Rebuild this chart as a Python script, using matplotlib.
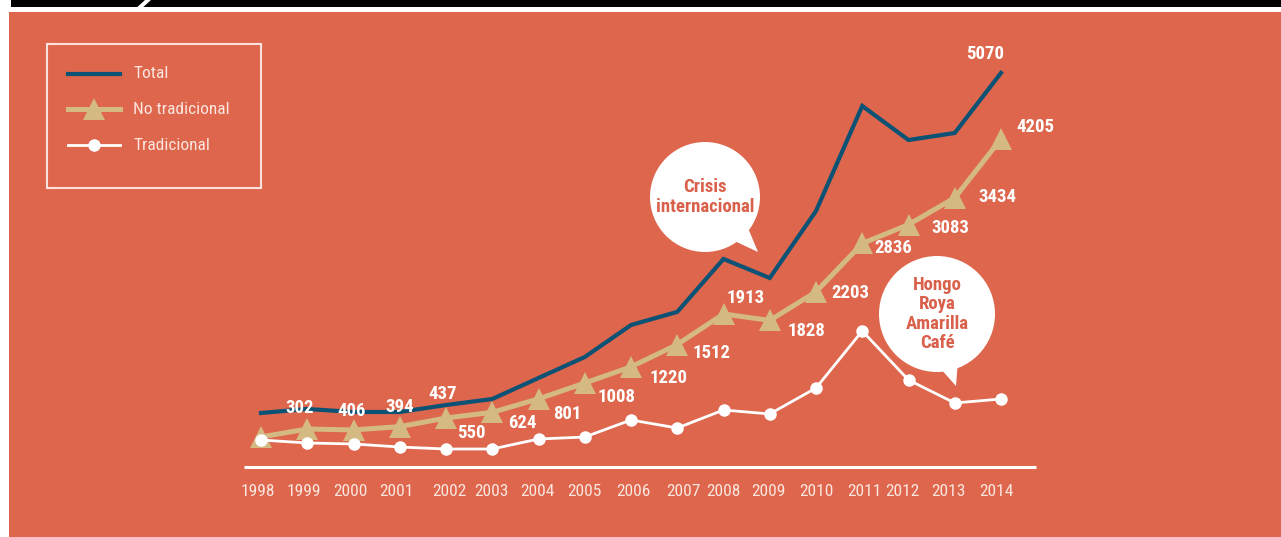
import matplotlib
matplotlib.use('Agg')
import matplotlib.pyplot as plt
import matplotlib.patches as patches
from matplotlib import font_manager

# datos
years = list(range(1998, 2015))
no_tradicional = [302, 406, 394, 437, 550, 624, 801, 1008, 1220, 1512, 1913, 1828, 2203, 2836, 3083, 3434, 4205]
tradicional = [262, 223, 210, 170, 144, 144, 275, 301, 524, 419, 655, 603, 943, 1690, 1048, 747, 799]
total = [616, 668, 629, 629, 720, 799, 1074, 1349, 1768, 1940, 2633, 2384, 3261, 4637, 4191, 4283, 5070]

# desplazamiento de las etiquetas (px, dx derecha / dy abajo)
lab_off = [(39, -29), (44, -18), (46, -23), (43, -33), (25, 15), (30, 11), (29, 15), (32, 14),
           (38, 11), (34, 8), (22, -16), (37, 11), (34, 1), (31, 5), (42, 3), (43, -1), (34, -12)]
# desplazamiento horizontal de los años (px)
tick_off = [-3, -3, -3, -3, 3, -1, -1, 0, 2, 6, 0, -1, 0, 2, -6, -6, -5]

W, H = 1281, 537
ORANGE = '#DD664C'
NAVY = '#0B5275'
TAN = '#D5B983'
WHITE = '#FFFFFF'
LIGHT = '#FBE6E0'
BUBBLE_TXT = '#D9604B'

# fuente condensada si hay alguna
names = {f.name for f in font_manager.fontManager.ttflist}
COND = 'DejaVu Sans'
for cand in ['Liberation Sans Narrow', 'Roboto Condensed', 'Open Sans Condensed', 'DejaVu Sans Condensed']:
    if cand in names:
        COND = cand
        break
FONT = dict(family=COND, fontstretch='condensed')


def P(x, y):
    # pixel (desde arriba-izquierda) -> fraccion
    return (x / W, 1 - y / H)


fig = plt.figure(figsize=(W / 100, H / 100), dpi=100, facecolor='white')
ax = fig.add_axes([0, 0, 1, 1])
ax.axis('off')

# escala: 1998 -> x=261px, 46.25 px por año; valor 0 -> y=460px, 0.07635 px por unidad
px_year = 46.25
px_val = 0.07635
ax.set_xlim(1998 - 261 / px_year, 1998 + (W - 261) / px_year)
ax.set_ylim(-(H - 460) / px_val, 460 / px_val)

# fondo
ta = ax.transAxes
ax.add_patch(patches.Rectangle(P(9, H), (W - 9) / W, (H - 12) / H, transform=ta,
                               facecolor=ORANGE, edgecolor='none', zorder=0))
ax.add_patch(patches.Rectangle(P(11, 7.3), (W - 11) / W, 7.3 / H, transform=ta,
                               facecolor='black', edgecolor='none', zorder=0))
ax.add_patch(patches.Polygon([P(137, 7.3), P(143, 7.3), P(151, 0), P(145, 0)], transform=ta,
                             facecolor='white', edgecolor='none', zorder=0))

# eje horizontal
ax.hlines(-(467 - 460) / px_val, years[0] - 0.37, years[-1] + 0.76, color=WHITE, linewidth=2.2, zorder=2)
for yr, off in zip(years, tick_off):
    ax.annotate(str(yr), (yr, -(491 - 460) / px_val), xytext=(off * 0.72, 0), textcoords='offset points',
                ha='center', va='center', color=LIGHT, fontsize=12.5, **FONT)

# series
ax.plot(years, total, color=NAVY, linewidth=3.0, solid_joinstyle='miter', zorder=3)
ax.plot(years, no_tradicional, color=TAN, linewidth=3.6, marker='^', markersize=15.5,
        markeredgewidth=0, zorder=4)
ax.plot(years, tradicional, color=WHITE, linewidth=2.0, marker='o', markersize=9,
        markeredgewidth=0, zorder=5)

# etiquetas
for yr, v, (dx, dy) in zip(years, no_tradicional, lab_off):
    ax.annotate(str(v), (yr, v), xytext=(dx * 0.72, -dy * 0.72), textcoords='offset points',
                ha='center', va='center', color=WHITE, fontsize=13.5, fontweight='bold',
                zorder=6, **FONT)
ax.annotate(str(total[-1]), (years[-1], total[-1]), xytext=(-16 * 0.72, 19 * 0.72),
            textcoords='offset points', ha='center', va='center', color=WHITE, fontsize=13.5,
            fontweight='bold', zorder=6, **FONT)


# burbujas
def bubble(cx, cy, r, tail, text):
    ax.add_patch(patches.Ellipse(P(cx, cy), 2 * r / W, 2 * r / H, transform=ta,
                                 facecolor=WHITE, edgecolor='none', zorder=7))
    ax.add_patch(patches.Polygon([P(*t) for t in tail], transform=ta,
                                 facecolor=WHITE, edgecolor='none', zorder=7))
    ax.text(*P(cx, cy), text, transform=ta, ha='center', va='center', color=BUBBLE_TXT,
            fontsize=13.5, fontweight='bold', linespacing=1.1, zorder=8, **FONT)


bubble(705, 197, 55, [(728, 238), (748, 228), (758, 252)], 'Crisis\ninternacional')
bubble(937, 314, 58, [(940, 368), (958, 360), (956, 386)], 'Hongo\nRoya\nAmarilla\nCafé')

# leyenda
ax.add_patch(patches.Rectangle(P(47, 188), 214 / W, 144 / H, transform=ta,
                               facecolor='none', edgecolor='#F8E2DB', linewidth=1.5, zorder=7))
leg = [('Total', 74, dict(color=NAVY, linewidth=3.0)),
       ('No tradicional', 109, dict(color=TAN, linewidth=3.6, marker='^', markersize=15.5)),
       ('Tradicional', 145, dict(color=WHITE, linewidth=2.0, marker='o', markersize=9))]
for name, yy, st in leg:
    x0, y0 = P(68, yy)
    x1, _ = P(120, yy)
    ax.plot([x0, x1], [y0, y0], transform=ta, color=st['color'], linewidth=st['linewidth'], zorder=8)
    if 'marker' in st:
        ax.plot([(x0 + x1) / 2], [y0], transform=ta, linestyle='none', marker=st['marker'],
                markersize=st['markersize'], color=st['color'], markeredgewidth=0, zorder=8)
    ax.text(*P(133, yy), name, transform=ta, ha='left', va='center', color=LIGHT, fontsize=12.5, **FONT)

fig.savefig('out.png', dpi=100, facecolor='white')
